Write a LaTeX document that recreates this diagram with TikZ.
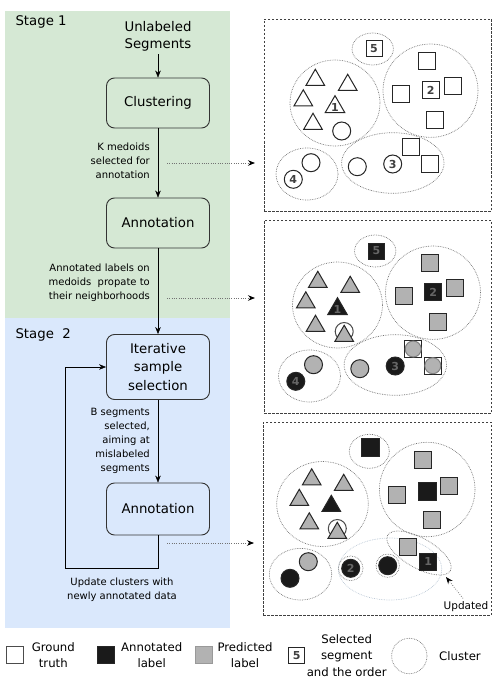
\documentclass[tikz,border=0pt]{standalone}
\usepackage{fontspec}
\setmainfont{DejaVu Sans}
\usetikzlibrary{arrows.meta}
\usetikzlibrary{calc}
\usetikzlibrary{shapes.geometric}
\definecolor{stageone}{HTML}{D5E8D4}
\definecolor{stagetwo}{HTML}{DAE8FC}
\definecolor{predgray}{RGB}{178,178,178}
\definecolor{annblack}{RGB}{26,26,26}
\definecolor{oldclu}{RGB}{185,198,212}
\newcommand\boxfont{\fontsize{13.3}{18.5}\selectfont}
\newcommand\notefont{\fontsize{10}{14}\selectfont}
\newcommand\legfont{\fontsize{11.7}{16.5}\selectfont}
\newcommand\numfont{\fontsize{11}{11}\selectfont\bfseries}

\begin{document}
\begin{tikzpicture}[x=1pt,y=-1pt,>={Stealth[length=7pt,width=5.5pt]},
	stagebox/.style={draw=black!80,line width=0.9pt,rounded corners=8pt,minimum width=103pt,minimum height=50pt,align=center,font=\boxfont},
	note/.style={font=\notefont,align=right,anchor=east,inner sep=0pt},
	panel/.style={draw=black!75,dash pattern=on 2.5pt off 1.5pt,line width=0.8pt,inner sep=0pt,outer sep=0pt},
	cluster/.style={draw=black!55,dash pattern=on 0.7pt off 1pt,line width=0.7pt},
	dotarrow/.style={-{Stealth[length=7pt,width=5.5pt,black]},draw=black!55,dash pattern=on 0.7pt off 1.6pt,line width=0.8pt,shorten >=9pt},
	shp/.style={draw=black!85,line width=1pt,inner sep=0pt,font=\numfont},
	sq/.style={shp,rectangle,minimum size=17pt},
	crc/.style={shp,circle,minimum size=18pt},
	tri/.style={shp,regular polygon,regular polygon sides=3,minimum size=21.5pt},
	gt/.style={fill=white,text=black!75},
	an/.style={fill=annblack,text=black!60},
	pr/.style={fill=predgray}]
	\useasboundingbox (0,0) rectangle (496,687);
	% stages
	\fill[stageone] (5,11) rectangle (230,318);
	\fill[stagetwo] (5,318) rectangle (230,628);
	\node (st1) [anchor=west,font=\boxfont] at (12,22) {Stage 1};
	\node (st2) [anchor=west,font=\boxfont] at (12,335) {Stage\ \ 2};
	\node (unl) [align=center,font=\fontsize{13.3}{17}\selectfont] at (158,36) {Unlabeled\\Segments};
	\node (clust) [stagebox] at (158,103) {Clustering};
	\node (annot) [stagebox] at (158,223) {Annotation};
	\node (iter) [stagebox,minimum height=65pt] at (158,367) {Iterative\\sample\\selection};
	\node (annot2) [stagebox,minimum height=52pt] at (158,509) {Annotation};
	\draw[->] (unl) -- (clust);
	\draw[->] (clust) -- (annot);
	\draw[->] (annot) -- (iter);
	\draw[->] (iter) -- (annot2);
	\coordinate (loop) at (65,568);
	\draw[->] (annot2.south) |- (loop) |- (iter.west);
	\node (kmed) [note] at (150,161) {K medoids\\selected for\\annotation};
	\node (prop) [note] at (150,283) {Annotated labels on\\medoids\ \ propate to\\their neighborhoods};
	\node (bseg) [note] at (150,441) {B segments\\selected,\\aiming at\\mislabeled\\segments};
	\node (upd) [font=\notefont,align=center] at (122,590) {Update clusters with\\newly annotated data};

	% panels
	\node (p1) [panel,minimum width=227pt,minimum height=192pt] at (377.5,115) {};
	\node (p2) [panel,minimum width=227pt,minimum height=193pt] at (377.5,316.5) {};
	\node (p3) [panel,minimum width=228pt,minimum height=193pt] at (377,518.5) {};
	\coordinate (d1) at (167,163);
	\coordinate (d2) at (167,298);
	\coordinate (d3) at (167,543);
	\draw[dotarrow] (d1) -- (d1 -| p1.west);
	\draw[dotarrow] (d2) -- (d2 -| p2.west);
	\draw[dotarrow] (d3) -- (d3 -| p3.west);

	% panel 1: ground truth
	\foreach \x/\y/\a/\b in {372.7/49/20.7/16,335/103/45/43,430.5/90.7/47.5/46.7,392.8/163/51.2/30.3,307/174/31/26}
		\draw[cluster] (\x,\y) ellipse [x radius=\a pt,y radius=\b pt];
	\foreach \x/\y [count=\i] in {427/60.7,452.7/86,401/94.3,435.3/120,410.7/147,430.3/163.7}
		\node (asq\i) [sq,gt] at (\x,\y) {};
	\foreach \x/\y [count=\i] in {315.3/80,347.7/85,303.3/100.5,313/124}
		\node (atri\i) [tri,gt] at (\x,\y) {};
	\foreach \x/\y [count=\i] in {341.7/131,357.3/166.7,311/162.7}
		\node (acrc\i) [crc,gt] at (\x,\y) {};
	\node (a5) [sq,gt,minimum size=16pt] at (374,49) {5};
	\node (a2) [sq,gt] at (430.7,90) {2};
	\node (a1) [tri,gt] at (335,107) {1};
	\node (a3) [crc,gt] at (392.7,164) {3};
	\node (a4) [crc,gt] at (293.3,179.3) {4};

	% panel 2: medoids annotated, labels propagated
	\begin{scope}[shift={(2.5,202)}]
		\foreach \x/\y/\a/\b in {372.7/49/20.7/16,335/103/45/43,430.5/90.7/47.5/46.7,392.8/163/51.2/30.3,307/174/31/26}
			\draw[cluster] (\x,\y) ellipse [x radius=\a pt,y radius=\b pt];
		\foreach \x/\y [count=\i] in {427/60.7,452.7/86,401/94.3,435.3/120}
			\node (bsq\i) [sq,pr] at (\x,\y) {};
		\foreach \x/\y [count=\i] in {410.7/147,430.3/163.7} {
			\node (bbox\i) [sq,gt] at (\x,\y) {};
			\node (bin\i) [crc,pr,draw=black!50,minimum size=16pt] at (\x,\y) {};
		}
		\foreach \x/\y [count=\i] in {315.3/80,347.7/85,303.3/100.5,313/124}
			\node (btri\i) [tri,pr] at (\x,\y) {};
		\node (bo) [crc,gt,draw=black!70] at (341.7,129.5) {};
		\node (bt) [tri,pr] at (341.7,134) {};
		\foreach \x/\y [count=\i] in {357.3/166.7,311/162.7}
			\node (bcrc\i) [crc,pr] at (\x,\y) {};
		\node (b5) [sq,an,minimum size=16pt] at (374,49) {5};
		\node (b2) [sq,an] at (430.7,90) {2};
		\node (b1) [tri,an] at (335,107) {1};
		\node (b3) [crc,an] at (392.7,164) {3};
		\node (b4) [crc,an] at (293.3,179.3) {4};
	\end{scope}

	% panel 3: clusters updated
	\draw[cluster,draw=oldclu] (390,569) ellipse [x radius=51.7pt,y radius=31pt];
	\foreach \x/\y/\a/\b in {369.3/451.3/20/17,322.5/504/45.8/42.5,427.2/489.5/47.8/47.2,300.5/574.2/31.2/25.8,350.7/568.3/12.3/12.3,387.7/565.7/11.7/11.7}
		\draw[cluster] (\x,\y) ellipse [x radius=\a pt,y radius=\b pt];
	\draw[cluster,rotate around={-29.5:(419,553)}] (419,553) ellipse [x radius=36pt,y radius=15pt];
	\node (ctop) [sq,an,minimum size=18pt] at (370,447.3) {};
	\foreach \x/\y [count=\i] in {311.7/479.5,343.7/485,299.3/500,309.3/523.5}
		\node (ctri\i) [tri,pr] at (\x,\y) {};
	\node (cbt) [tri,an] at (331.3,506) {};
	\node (co) [crc,gt,draw=black!70] at (337.3,528.5) {};
	\node (ct) [tri,pr] at (337.3,533) {};
	\foreach \x/\y [count=\i] in {422.7/460,397.3/494.7,449/485.7,431.7/520,408.3/546.7}
		\node (csq\i) [sq,pr] at (\x,\y) {};
	\node (cbs) [sq,an,minimum size=18pt] at (427,491) {};
	\node (cgc) [crc,pr] at (308.3,561.7) {};
	\node (cbc) [crc,an] at (290,578.3) {};
	\node (c2) [crc,an] at (350.7,568.3) {2};
	\node (cnew) [crc,an] at (387.7,565.7) {};
	\node (c1) [sq,an] at (428.3,561.7) {1};
	\node (updt) [font=\fontsize{10.5}{12}\selectfont] at (466,607) {Updated};
	\coordinate (updtip) at (446,577);
	\draw[dotarrow,shorten >=0pt] (updt.north) ++(-3,0) -- (updtip);

	% legend
	\node (lg1) [sq,gt,draw=black!70] at (15,655) {};
	\node (lt1) [font=\legfont,align=center] at (53.3,655) {Ground\\truth};
	\node (lg2) [sq,an] at (106.2,655) {};
	\node (lt2) [font=\legfont,align=center] at (151.7,655) {Annotated\\label};
	\node (lg3) [sq,pr,draw=black!40] at (203.7,655) {};
	\node (lt3) [font=\legfont,align=center] at (245,655) {Predicted\\label};
	\node (lg4) [sq,gt,minimum size=16pt] at (296.7,655.8) {5};
	\node (lt4) [font=\legfont,align=center] at (346.7,655.5) {Selected\\segment\\and the order};
	\node (lg5) [cluster,circle,minimum size=35.4pt] at (409.3,656) {};
	\node (lt5) [font=\legfont] at (460,656) {Cluster};
\end{tikzpicture}
\end{document}
